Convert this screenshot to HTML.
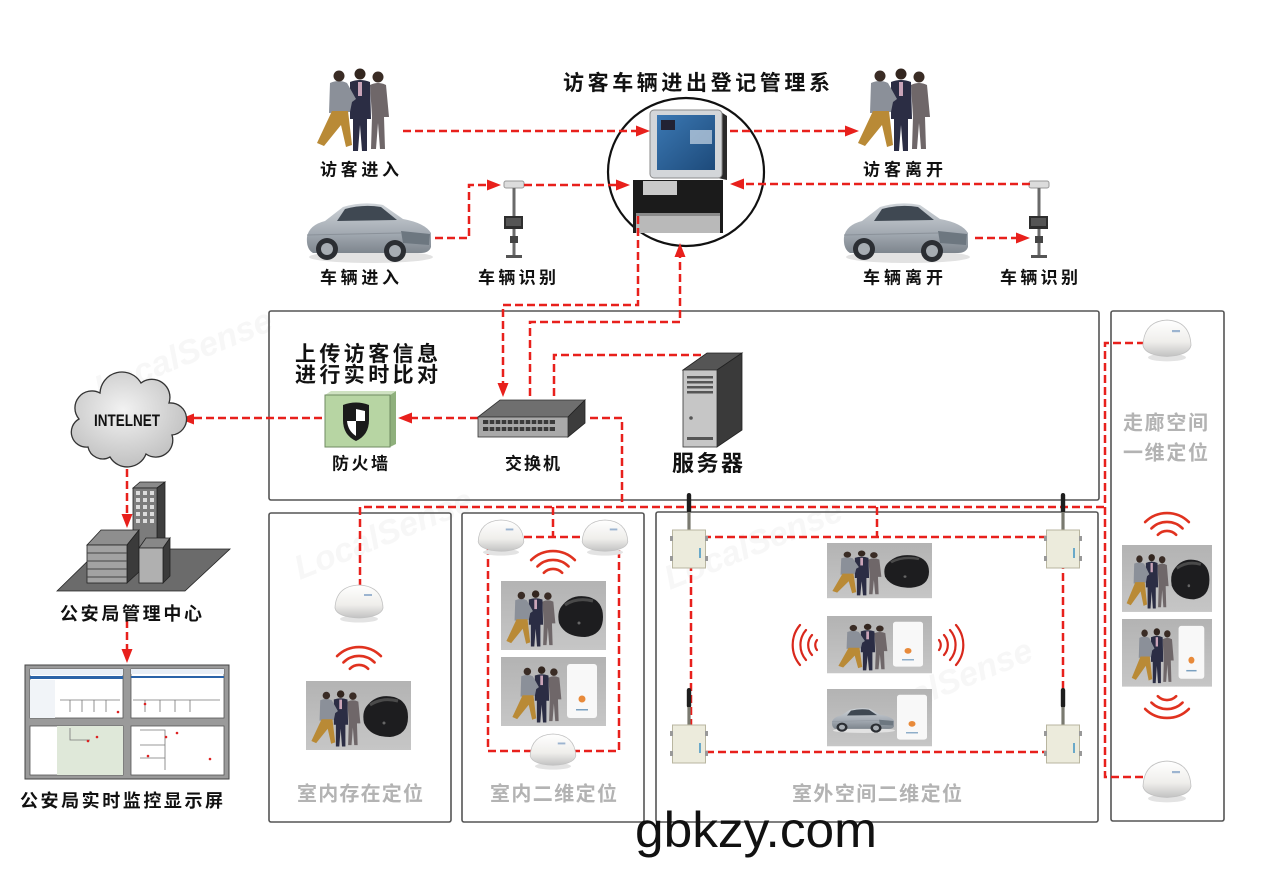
<!DOCTYPE html>
<html><head><meta charset="utf-8"><style>
html,body{margin:0;padding:0;background:#fff;}
svg{display:block;}
text{font-family:"Liberation Sans","Noto Sans CJK SC",sans-serif;}
</style></head><body>
<svg width="1267" height="877" viewBox="0 0 1267 877" xmlns="http://www.w3.org/2000/svg">
<defs>
 <linearGradient id="sg" x1="0" y1="0" x2="0" y2="1"><stop offset="0" stop-color="#ffffff"/><stop offset="0.6" stop-color="#efeeeb"/><stop offset="1" stop-color="#c2c2c2"/></linearGradient>
 <linearGradient id="pg" x1="0" y1="0" x2="0" y2="1"><stop offset="0" stop-color="#b3b3b3"/><stop offset="1" stop-color="#c6c6c6"/></linearGradient>
 <radialGradient id="cg" cx="0.45" cy="0.4" r="0.7"><stop offset="0" stop-color="#f2f2f2"/><stop offset="1" stop-color="#b9b9b9"/></radialGradient>
 <linearGradient id="carg" x1="0" y1="0" x2="0" y2="1"><stop offset="0" stop-color="#cfd4d9"/><stop offset="0.6" stop-color="#a3aab2"/><stop offset="1" stop-color="#7d858d"/></linearGradient>
 <linearGradient id="scr" x1="0" y1="0" x2="1" y2="1"><stop offset="0" stop-color="#3b78b3"/><stop offset="1" stop-color="#1d4a7a"/></linearGradient>

 <g id="ppl">
  <path d="M58,20 Q66,16 74,20 L77,52 L72,52 L73,84 L68,84 L66,58 L64,84 L59,84 L60,52 Z" fill="#6f6769"/>
  <circle cx="66" cy="12" r="5.5" fill="#3a2c25"/>
  <path d="M38,17 Q48,13 58,17 L59,54 L55,54 L55,86 L50,86 L48,60 L46,86 L41,86 L41,54 L38,54 Z" fill="#2b2d44"/>
  <rect x="46" y="17" width="4" height="14" fill="#c9a4b8"/>
  <circle cx="48" cy="9" r="5.5" fill="#33261f"/>
  <path d="M18,18 Q27,14 35,18 L44,34 L40,37 L38,47 L17,48 Z" fill="#8b9099"/>
  <path d="M20,46 L36,46 L40,80 L34,82 L29,60 L12,81 L5,78 Z" fill="#b98a36"/>
  <circle cx="27" cy="11" r="5.5" fill="#3a2c25"/>
 </g>

 <g id="car">
  <ellipse cx="68" cy="60" rx="62" ry="6" fill="#e2e2e2"/>
  <path d="M4,40 Q6,28 22,24 L40,10 Q60,4 80,8 L100,22 Q122,26 128,36 L128,50 Q126,56 118,56 L10,56 Q3,52 4,40 Z" fill="url(#carg)"/>
  <path d="M42,12 Q60,7 78,10 L94,23 L34,24 Z" fill="#3f4852"/>
  <path d="M98,34 L127,37 L126,48 L100,46Z" fill="#6d7780"/>
  <path d="M4,38 L98,36" stroke="#8a9199" stroke-width="1"/>
  <circle cx="24" cy="52" r="11" fill="#2b2e33"/><circle cx="24" cy="52" r="6" fill="#a7adb3"/>
  <circle cx="92" cy="54" r="11" fill="#2b2e33"/><circle cx="92" cy="54" r="6" fill="#a7adb3"/>
 </g>

 <g id="sen">
  <ellipse cx="0" cy="15" rx="19" ry="3.5" fill="#e3e3e3"/>
  <path d="M-24,4 Q-23,-18 0,-19 Q23,-18 24,4 Q22,13 0,14 Q-22,13 -24,4Z" fill="url(#sg)" stroke="#c2c2c2" stroke-width="0.8"/>
  <rect x="5" y="-10" width="8" height="2" fill="#9cb4d0"/>
 </g>

 <g id="wifi" fill="none" stroke="#e0321f" stroke-width="2.6" stroke-linecap="round">
  <path d="M-21.9,-21.9 A31,31 0 0 1 21.9,-21.9"/>
  <path d="M-15.6,-15.6 A22,22 0 0 1 15.6,-15.6"/>
  <path d="M-9.2,-9.2 A13,13 0 0 1 9.2,-9.2"/>
 </g>
 <g id="wave4" fill="none" stroke="#d9281c" stroke-width="2.2" stroke-linecap="round">
  <path d="M-23,-20 A31,31 0 0 0 -23,20"/>
  <path d="M-17,-15 A23,23 0 0 0 -17,15"/>
  <path d="M-11,-10 A15,15 0 0 0 -11,10"/>
  <path d="M-6,-5 A8,8 0 0 0 -6,5"/>
 </g>

 <g id="rbox">
  <rect x="-2.2" y="-37" width="4.4" height="20" rx="2.2" fill="#1e1e1e"/>
  <rect x="-1.6" y="-18" width="3.2" height="18" fill="#7a7a70"/>
  <rect x="-16.5" y="0" width="33" height="38" fill="#ecebdc" stroke="#b9b6a0"/>
  <rect x="-19" y="6" width="3" height="5" fill="#999"/><rect x="-19" y="26" width="3" height="5" fill="#999"/>
  <rect x="16" y="6" width="3" height="5" fill="#999"/><rect x="16" y="26" width="3" height="5" fill="#999"/>
  <rect x="10" y="18" width="2" height="10" fill="#6aa9c9"/>
 </g>

 <g id="watch">
  <path d="M4,14 Q14,0 32,4 Q46,8 46,24 Q46,42 28,44 Q8,44 2,30 Q0,20 4,14Z" fill="#1d1d1f"/>
  <path d="M8,12 Q20,4 36,8" fill="none" stroke="#4a4a4a" stroke-width="3"/>
  <circle cx="22" cy="30" r="1.5" fill="#666"/>
 </g>
 <g id="card">
  <rect x="0" y="0" width="30" height="54" rx="3" fill="#f8f8f8"/>
  <circle cx="15" cy="35" r="3.5" fill="#e88a3a"/>
  <rect x="9" y="45" width="12" height="1.5" fill="#7aa0c0"/>
 </g>

 <g id="pA"><rect width="105" height="69" fill="url(#pg)"/><use href="#ppl" transform="translate(2,7) scale(0.68)"/><use href="#watch" transform="translate(56,12)"/></g>
 <g id="pB"><rect width="105" height="69" fill="url(#pg)"/><use href="#ppl" transform="translate(8,7) scale(0.68)"/><use href="#card" transform="translate(66,7)"/></g>
 <g id="pC"><rect width="105" height="69" fill="url(#pg)"/><use href="#car" transform="translate(3,20) scale(0.5)"/><use href="#card" transform="translate(70,7)"/></g>

 <g id="cam">
  <rect x="-10" y="-3" width="20" height="7" rx="2" fill="#dcdcdc" stroke="#999"/>
  <rect x="-1.5" y="4" width="3" height="70" fill="#6a6a6a"/>
  <rect x="-10" y="32" width="19" height="13" fill="#2e2e2e"/>
  <rect x="-8" y="34" width="15" height="8" fill="#555"/>
  <rect x="-4" y="52" width="8" height="7" fill="#444"/>
  <rect x="-8" y="71" width="16" height="3" fill="#555"/>
 </g>
</defs>

<!-- faint watermarks -->
<g font-size="34" font-weight="bold" font-style="italic" fill="#f7f7f7">
 <text x="300" y="580" transform="rotate(-22 300 580)">LocalSense</text>
 <text x="670" y="590" transform="rotate(-22 670 590)">LocalSense</text>
 <text x="860" y="730" transform="rotate(-22 860 730)">LocalSense</text>
 <text x="100" y="400" transform="rotate(-22 100 400)">LocalSense</text>
</g>

<!-- Boxes -->
<g fill="none" stroke="#555" stroke-width="1.6">
 <rect x="269" y="311" width="830" height="189" rx="2"/>
 <rect x="269" y="513" width="182" height="309" rx="2"/>
 <rect x="462" y="513" width="182" height="309" rx="2"/>
 <rect x="656" y="512" width="442" height="310" rx="2"/>
 <rect x="1111" y="311" width="113" height="510" rx="2"/>
</g>

<!-- Title -->
<text x="563" y="90" font-size="21" font-weight="bold" fill="#111" textLength="267" lengthAdjust="spacing">访客车辆进出登记管理系</text>

<!-- Kiosk circle -->
<ellipse cx="686" cy="172" rx="78" ry="74" fill="#fff" stroke="#111" stroke-width="2.2"/>
<g>
 <path d="M718,110 L727,116 L727,180 L718,178Z" fill="#2a2a2a"/>
 <rect x="650" y="110" width="72" height="68" rx="4" fill="#d3d6d9" stroke="#8a8a8a"/>
 <rect x="657" y="115" width="58" height="55" fill="url(#scr)"/>
 <rect x="690" y="130" width="22" height="14" fill="#c9d7e6" opacity="0.7"/>
 <rect x="661" y="120" width="14" height="10" fill="#223"/>
 <rect x="633" y="180" width="90" height="53" fill="#1b1b1b"/>
 <rect x="643" y="181" width="34" height="14" fill="#c9c9c9"/>
 <rect x="636" y="213" width="84" height="20" fill="#b9b9b9"/>
 <rect x="636" y="213" width="84" height="3" fill="#8a8a8a"/>
</g>

<!-- People & cars -->
<use href="#ppl" transform="translate(312,65)"/>
<use href="#ppl" transform="translate(853,65)"/>
<use href="#car" transform="translate(303,197)"/>
<use href="#car" transform="translate(840,197)"/>
<use href="#cam" transform="translate(514,184)"/>
<use href="#cam" transform="translate(1039,184)"/>

<!-- Labels top -->
<g font-size="17" font-weight="bold" fill="#111">
 <text x="320" y="175.5" textLength="79" lengthAdjust="spacing">访客进入</text>
 <text x="320" y="283.5" textLength="79" lengthAdjust="spacing">车辆进入</text>
 <text x="478" y="283.5" textLength="78" lengthAdjust="spacing">车辆识别</text>
 <text x="863" y="175.5" textLength="80" lengthAdjust="spacing">访客离开</text>
 <text x="863" y="283.5" textLength="80" lengthAdjust="spacing">车辆离开</text>
 <text x="1000" y="283.5" textLength="78" lengthAdjust="spacing">车辆识别</text>
</g>

<!-- Dashed connectors -->
<g fill="none" stroke="#e8201c" stroke-width="2.5" stroke-dasharray="8 4">
 <path d="M403,131 H637"/>
 <path d="M730,131 H846"/>
 <path d="M435,238 H469 V185 H488"/>
 <path d="M524,185 H617"/>
 <path d="M1030,184 H743"/>
 <path d="M975,238 H1017"/>
 <path d="M638,216 V305 H503 V384"/>
 <path d="M530,396 V322 H680 V256"/>
 <path d="M554,396 V355 H703"/>
 <path d="M478,418 H411"/>
 <path d="M322,418 H193"/>
 <path d="M590,418 H622 V507"/>
 <path d="M360,587 V507 H1105"/>
 <path d="M553,507 V537"/>
 <rect x="488" y="537" width="131" height="214"/>
 <path d="M877,507 V537"/>
 <rect x="691" y="537" width="372" height="215"/>
 <path d="M1145,343 H1105 V777 H1145"/>
 <path d="M127,457 V515"/>
 <path d="M127,620 V650"/>
</g>
<!-- Arrowheads -->
<g fill="#e8201c">
 <polygon points="650,131 636,125.5 636,136.5"/>
 <polygon points="859,131 845,125.5 845,136.5"/>
 <polygon points="501,185 487,179.5 487,190.5"/>
 <polygon points="630,185 616,179.5 616,190.5"/>
 <polygon points="730,184 744,178.5 744,189.5"/>
 <polygon points="1030,238 1016,232.5 1016,243.5"/>
 <polygon points="503,397 497.5,383 508.5,383"/>
 <polygon points="680,243 674.5,257 685.5,257"/>
 <polygon points="398,418 412,412.5 412,423.5"/>
 <polygon points="180,419 194,413.5 194,424.5"/>
 <polygon points="127,528 121.5,514 132.5,514"/>
 <polygon points="127,663 121.5,649 132.5,649"/>
</g>

<!-- Network box content -->
<g font-weight="bold" fill="#111">
 <text x="295" y="361" font-size="21" textLength="143" lengthAdjust="spacing">上传访客信息</text>
 <text x="295" y="382" font-size="21" textLength="143" lengthAdjust="spacing">进行实时比对</text>
 <text x="332" y="469.5" font-size="17" textLength="56" lengthAdjust="spacing">防火墙</text>
 <text x="505" y="469.5" font-size="17" textLength="55" lengthAdjust="spacing">交换机</text>
 <text x="672" y="471" font-size="22" textLength="71" lengthAdjust="spacing">服务器</text>
</g>
<!-- Firewall -->
<g>
 <polygon points="390,395 396,391 396,444 390,447" fill="#8fb07c"/>
 <polygon points="325,395 331,391 396,391 390,395" fill="#cfe2c2"/>
 <rect x="325" y="395" width="65" height="52" fill="#b7d5a3" stroke="#6f8a60" stroke-width="1"/>
 <path d="M343,405 Q356,400 369,405 L369,420 Q369,435 356,441 Q343,435 343,420Z" fill="#1a1a1a"/>
 <path d="M356,409 L365,411 L365,421 L356,421Z" fill="#fff"/>
 <path d="M347,421 L356,421 L356,436 Q348,431 347,421Z" fill="#fff"/>
</g>
<!-- Switch -->
<g>
 <polygon points="478,417 500,400 585,400 568,417" fill="#6f6f6f" stroke="#333" stroke-width="0.8"/>
 <polygon points="568,417 585,400 585,423 568,437" fill="#3c3c3c" stroke="#222" stroke-width="0.8"/>
 <rect x="478" y="417" width="90" height="20" fill="#a9a9a9" stroke="#333" stroke-width="0.8"/>
 <g fill="#3a3a3a">
  <rect x="483" y="420" width="72" height="4"/>
  <rect x="483" y="427" width="72" height="4"/>
 </g>
 <g stroke="#a9a9a9" stroke-width="1.4">
  <path d="M489,419 V432 M495,419 V432 M501,419 V432 M507,419 V432 M513,419 V432 M519,419 V432 M525,419 V432 M531,419 V432 M537,419 V432 M543,419 V432 M549,419 V432"/>
 </g>
</g>
<!-- Server -->
<g>
 <polygon points="683,370 707,353 742,353 717,370" fill="#555" stroke="#222" stroke-width="0.8"/>
 <polygon points="717,370 742,353 742,430 717,447" fill="#3a3a3a" stroke="#222" stroke-width="0.8"/>
 <rect x="683" y="370" width="34" height="77" fill="#c6c6c6" stroke="#333" stroke-width="0.8"/>
 <g fill="#555"><rect x="687" y="376" width="26" height="2.5"/><rect x="687" y="381" width="26" height="2.5"/><rect x="687" y="386" width="26" height="2.5"/><rect x="687" y="391" width="26" height="2.5"/><rect x="687" y="437" width="26" height="3"/></g>
 <circle cx="691" cy="418" r="1.8" fill="#555"/>
</g>

<!-- Cloud -->
<path d="M88,447 A15,15 0 0 1 79,419 A17,17 0 0 1 100,393 A22,22 0 0 1 141,383 A18,18 0 0 1 169,403 A16,16 0 0 1 172,435 A17,17 0 0 1 146,454 A20,20 0 0 1 110,457 A15,15 0 0 1 88,447 Z" fill="url(#cg)" stroke="#333" stroke-width="1.3"/>
<text x="94" y="426" font-size="17" font-weight="bold" fill="#111" textLength="66" lengthAdjust="spacingAndGlyphs">INTELNET</text>

<!-- Police building -->
<g stroke="#222" stroke-width="0.8">
 <polygon points="57,591 100,549 230,549 185,591" fill="#6b6b6b"/>
 <polygon points="133,488 140,482 165,482 157,488" fill="#8a8a8a"/>
 <polygon points="157,488 165,482 165,545 157,550" fill="#3e3e3e"/>
 <rect x="133" y="488" width="24" height="62" fill="#7c7c7c"/>
 <polygon points="87,545 101,530 139,530 127,545" fill="#8e8e8e"/>
 <polygon points="127,545 139,530 139,572 127,583" fill="#3b3b3b"/>
 <rect x="87" y="545" width="40" height="38" fill="#a2a2a2"/>
 <polygon points="139,548 146,538 170,538 163,548" fill="#888"/>
 <polygon points="163,548 170,538 170,576 163,583" fill="#3b3b3b"/>
 <rect x="139" y="548" width="24" height="35" fill="#b0b0b0"/>
</g>
<g fill="#ddd">
 <rect x="136" y="491" width="4" height="4"/><rect x="143" y="491" width="4" height="4"/><rect x="150" y="491" width="4" height="4"/>
 <rect x="136" y="498" width="4" height="4"/><rect x="143" y="498" width="4" height="4"/><rect x="150" y="498" width="4" height="4"/>
 <rect x="136" y="505" width="4" height="4"/><rect x="143" y="505" width="4" height="4"/><rect x="150" y="505" width="4" height="4"/>
 <rect x="136" y="512" width="4" height="4"/><rect x="143" y="512" width="4" height="4"/><rect x="150" y="512" width="4" height="4"/>
 <rect x="136" y="519" width="4" height="4"/><rect x="143" y="519" width="4" height="4"/><rect x="150" y="519" width="4" height="4"/>
</g>
<g stroke="#444" stroke-width="1"><path d="M87,553 H127 M87,561 H127 M87,569 H127 M87,577 H127"/></g>
<text x="60" y="620" font-size="18" font-weight="bold" fill="#111" textLength="142" lengthAdjust="spacing">公安局管理中心</text>

<!-- Monitor wall -->
<g>
 <rect x="25" y="665" width="204" height="114" fill="#9a9a9a" stroke="#444" stroke-width="1"/>
 <g fill="#fff" stroke="#555" stroke-width="0.8">
  <rect x="30" y="669" width="93" height="49"/>
  <rect x="131" y="669" width="93" height="49"/>
  <rect x="30" y="726" width="93" height="49"/>
  <rect x="131" y="726" width="93" height="49"/>
 </g>
 <rect x="30" y="669" width="93" height="6" fill="#e8eef6"/>
 <rect x="30" y="676" width="93" height="3" fill="#2a63a8"/>
 <rect x="131" y="669" width="93" height="5" fill="#e8eef6"/>
 <rect x="131" y="676" width="93" height="2" fill="#2a63a8"/>
 <rect x="30" y="680" width="25" height="38" fill="#f1f4f8"/>
 <rect x="57" y="726" width="66" height="49" fill="#dfe8d9"/>
 <g fill="none" stroke="#777" stroke-width="0.8">
  <path d="M60,700 H120 M70,700 V712 M82,700 V712 M94,700 V712 M106,700 V712"/>
  <path d="M133,700 H220 M145,700 V712 M160,700 V712 M175,700 V712 M190,700 V712"/>
  <path d="M70,728 V740 H90"/>
  <path d="M140,730 H165 V770 M140,745 H165 M140,758 H165"/>
 </g>
 <g fill="#d22"><circle cx="145" cy="704" r="1.3"/><circle cx="118" cy="712" r="1.3"/><circle cx="88" cy="741" r="1.3"/><circle cx="97" cy="737" r="1.3"/><circle cx="166" cy="737" r="1.3"/><circle cx="177" cy="733" r="1.3"/><circle cx="210" cy="759" r="1.3"/><circle cx="148" cy="756" r="1.3"/></g>
</g>
<text x="20" y="807" font-size="18" font-weight="bold" fill="#111" textLength="203" lengthAdjust="spacing">公安局实时监控显示屏</text>

<!-- Box 1 -->
<use href="#sen" transform="translate(359,604)"/>
<use href="#wifi" transform="translate(359,678)"/>
<use href="#pA" transform="translate(306,681)"/>

<!-- Box 2 -->
<use href="#sen" transform="translate(501,538) scale(0.95)"/>
<use href="#sen" transform="translate(605,538) scale(0.95)"/>
<use href="#wifi" transform="translate(553,582)"/>
<use href="#pA" transform="translate(501,581)"/>
<use href="#pB" transform="translate(501,657)"/>
<use href="#sen" transform="translate(553,752) scale(0.95)"/>

<!-- Box 3 -->
<use href="#rbox" transform="translate(689,530)"/>
<use href="#rbox" transform="translate(1063,530)"/>
<use href="#rbox" transform="translate(689,725)"/>
<use href="#rbox" transform="translate(1063,725)"/>
<use href="#pA" transform="translate(827,543) scale(1,0.8)"/>
<use href="#pB" transform="translate(827,616) scale(1,0.83)"/>
<use href="#pC" transform="translate(827,689) scale(1,0.83)"/>
<use href="#wave4" transform="translate(823,645)"/>
<use href="#wave4" transform="translate(933,645) scale(-1,1)"/>

<!-- Corridor -->
<use href="#sen" transform="translate(1167,341) scale(1,1.1)"/>
<use href="#wifi" transform="translate(1167,544)"/>
<use href="#pA" transform="translate(1122,545) scale(0.857,0.97)"/>
<use href="#pB" transform="translate(1122,619) scale(0.857,0.98)"/>
<use href="#wifi" transform="translate(1167,687) scale(1,-1)"/>
<use href="#sen" transform="translate(1167,782) scale(1,1.1)"/>

<!-- Gray labels -->
<g font-size="20" font-weight="bold" fill="#b3b3b3">
 <text x="297" y="800.5" textLength="126" lengthAdjust="spacing">室内存在定位</text>
 <text x="490" y="800.5" textLength="127" lengthAdjust="spacing">室内二维定位</text>
 <text x="792" y="800.5" textLength="170" lengthAdjust="spacing">室外空间二维定位</text>
 <text x="1123" y="429.5" textLength="85" lengthAdjust="spacing">走廊空间</text>
 <text x="1123" y="459.5" textLength="85" lengthAdjust="spacing">一维定位</text>
</g>

<!-- Site text -->
<text x="635" y="847" font-size="50" fill="#111" textLength="242" lengthAdjust="spacingAndGlyphs">gbkzy.com</text>
</svg>
</body></html>
